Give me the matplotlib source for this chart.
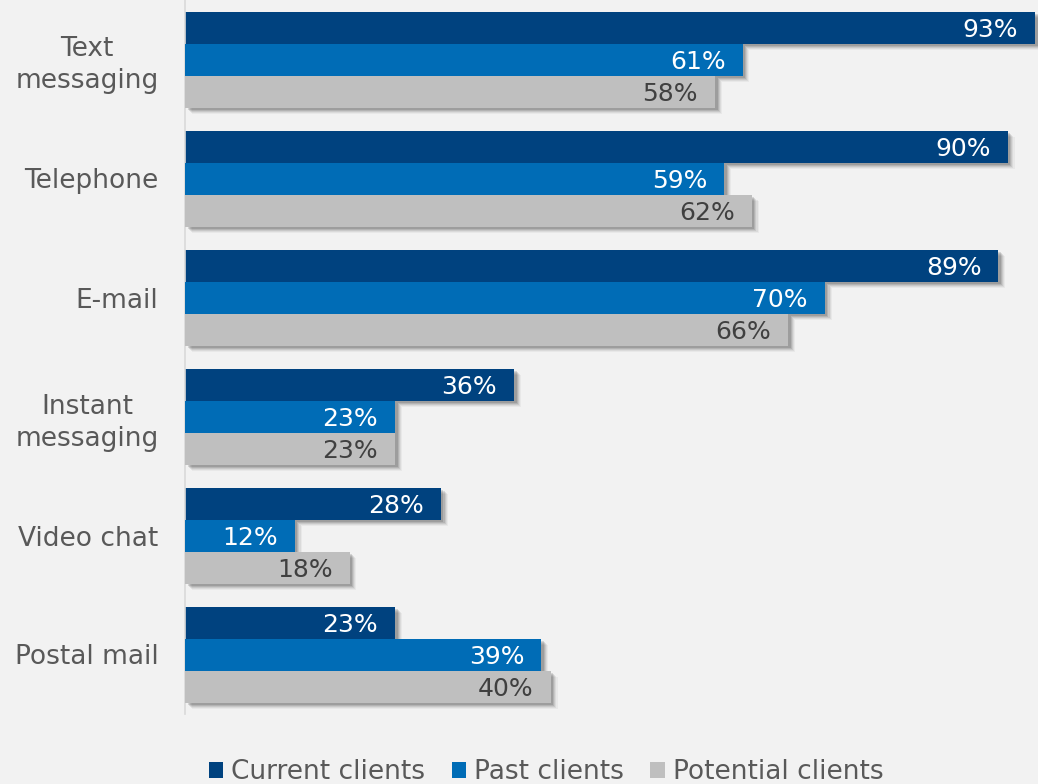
import numpy as np
import matplotlib
matplotlib.use("Agg")
import matplotlib.pyplot as plt
from matplotlib.patches import Patch
import matplotlib.patheffects as pe

# ── Data ──────────────────────────────────────
categories = ["Text\nmessaging", "Telephone", "E-mail",
              "Instant\nmessaging", "Video chat", "Postal mail"]
current_clients = [93, 90, 89, 36, 28, 23]
past_clients = [61, 59, 70, 23, 12, 39]
potential_clients = [58, 62, 66, 23, 18, 40]
series_names = ["Current clients", "Past clients", "Potential clients"]

colors = ["#00427f", "#006cb6", "#bfbfbf"]
label_colors = ["white", "white", "#404040"]
BG = "#f2f2f2"

plt.rcParams["font.family"] = ["DejaVu Sans"]

W, H = 1038, 784
fig = plt.figure(figsize=(W / 100, H / 100), dpi=100, facecolor=BG)
left_px, top_px, bot_px = 185, 0, 714
ax = fig.add_axes([left_px / W, 1 - bot_px / H, (W - left_px) / W,
                   (bot_px - top_px) / H])
ax.set_facecolor(BG)

px_per_pct = 9.14
ax.set_xlim(0, (W - left_px) / px_per_pct)
ax.set_ylim(len(categories) - 0.5, -0.5)

y = np.arange(len(categories))
bar_h = 32 / 119

# soft drop shadow built from a few offset, translucent layers
shadow = [pe.SimplePatchShadow(offset=(o, -o), shadow_rgbFace="k", alpha=a)
          for o, a in [(5.0, 0.04), (4.2, 0.06), (3.4, 0.08),
                       (2.6, 0.1), (1.8, 0.12)]]

for i, vals in enumerate([current_clients, past_clients, potential_clients]):
    ypos = y + (i - 1) * bar_h
    bars = ax.barh(ypos, vals, height=bar_h, color=colors[i], zorder=2 + i,
                   linewidth=0)
    for b in bars:
        b.set_path_effects(shadow + [pe.Normal()])
    for yy, v in zip(ypos, vals):
        ax.text(v - 17 / px_per_pct, yy, f"{v}%", ha="right",
                va="center_baseline", color=label_colors[i], fontsize=18,
                zorder=10)

ax.set_yticks(y)
ax.set_yticklabels(categories, fontsize=19, color="#595959", linespacing=1.3)
for t in ax.get_yticklabels():
    t.set_multialignment("center")
ax.tick_params(axis="y", length=0, pad=19)
ax.set_xticks([])

for s in ["top", "right", "bottom"]:
    ax.spines[s].set_visible(False)
ax.spines["left"].set_color("#d9d9d9")
ax.spines["left"].set_linewidth(1.2)

handles = [Patch(facecolor=c, edgecolor="none") for c in colors]
fig.legend(handles, series_names, loc="center", bbox_to_anchor=(546 / W, 1 - 772 / H),
           ncol=3, frameon=False, fontsize=19, labelcolor="#595959",
           handlelength=0.55, handleheight=0.55, handletextpad=0.3,
           columnspacing=1.0)

fig.savefig("out.png", dpi=100, facecolor=BG)
